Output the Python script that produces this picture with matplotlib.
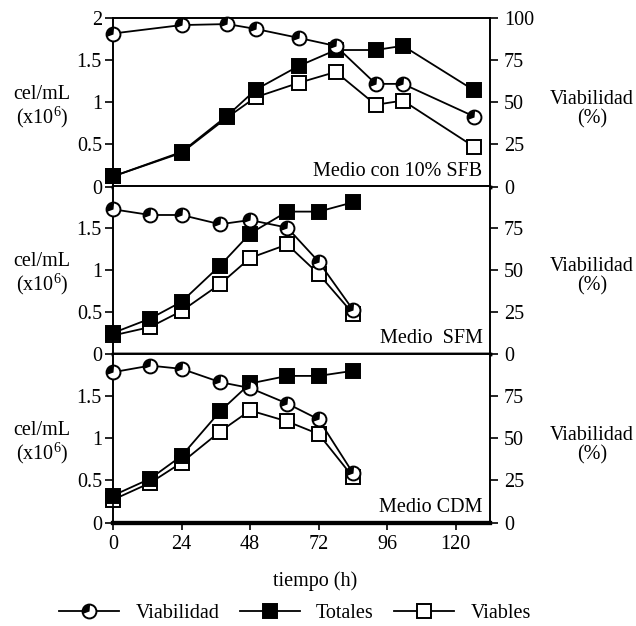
import numpy as np
import matplotlib
matplotlib.use('Agg')
import matplotlib.pyplot as plt
from matplotlib.path import Path
from matplotlib.lines import Line2D
from matplotlib.legend_handler import HandlerTuple

plt.rcParams['font.family'] = 'Liberation Serif'
plt.rcParams['font.size'] = 14.5
plt.rcParams['mathtext.fontset'] = 'custom'
plt.rcParams['mathtext.rm'] = 'Liberation Serif'
plt.rcParams['mathtext.it'] = 'Liberation Serif'

# tiempos (h)
t_sfb = [0, 24, 40, 50, 65, 78, 92, 101.5, 126.5]
t_sfm = [0, 13, 24, 37.5, 48, 61, 72, 84]
t_cdm = [0, 13, 24, 37.5, 48, 61, 72, 84]

# Medio con 10% SFB
viab_sfb = [90.8, 95.8, 96.4, 93.5, 88.2, 83.4, 60.9, 60.9, 41.5]
tot_sfb = [0.12, 0.41, 0.84, 1.15, 1.43, 1.62, 1.62, 1.67, 1.14]
vivas_sfb = [0.12, 0.40, 0.82, 1.06, 1.23, 1.36, 0.97, 1.02, 0.47]

# Medio SFM
viab_sfm = [85.9, 82.5, 82.5, 77.0, 79.5, 75.0, 54.8, 26.3]
tot_sfm = [0.25, 0.42, 0.62, 1.05, 1.43, 1.69, 1.69, 1.80]
vivas_sfm = [0.22, 0.32, 0.51, 0.83, 1.14, 1.30, 0.95, 0.48]

# Medio CDM
viab_cdm = [89.2, 93.1, 91.2, 83.3, 79.8, 70.6, 61.2, 29.4]
tot_cdm = [0.32, 0.52, 0.79, 1.32, 1.65, 1.74, 1.74, 1.80]
vivas_cdm = [0.27, 0.47, 0.71, 1.08, 1.33, 1.20, 1.05, 0.54]

paneles = [
    (t_sfb, viab_sfb, tot_sfb, vivas_sfb, 'Medio con 10% SFB'),
    (t_sfm, viab_sfm, tot_sfm, vivas_sfm, 'Medio  SFM'),
    (t_cdm, viab_cdm, tot_cdm, vivas_cdm, 'Medio CDM'),
]

wedge = Path.wedge(85, 200)
ms = 10
mew = 1.4

fig = plt.figure(figsize=(6.36, 6.26), dpi=100)
W, H = 636, 626
x0, x1 = 113, 490
tops = [18, 185.5, 354]
alto = 168.5

for i, (t, viab, tot, vivas, nombre) in enumerate(paneles):
    ax = fig.add_axes([x0 / W, 1 - (tops[i] + alto) / H, (x1 - x0) / W, alto / H])
    ax2 = ax.twinx()
    ax.set_xlim(0, 132)
    ax.set_ylim(0, 2)
    ax2.set_ylim(0, 100)

    ax.plot(t, vivas, '-', color='black', lw=1.3, marker='s', ms=ms,
            mfc='white', mec='black', mew=mew, clip_on=False, zorder=3)
    ax.plot(t, tot, '-', color='black', lw=1.3, marker='s', ms=ms,
            mfc='black', mec='black', mew=mew, clip_on=False, zorder=4)
    ax2.plot(t, viab, '-', color='black', lw=1.3, marker='o', ms=ms,
             mfc='white', mec='black', mew=mew, clip_on=False, zorder=3)
    ax2.plot(t, viab, ls='none', marker=wedge, ms=ms - 0.5, mfc='black',
             mec='black', mew=0, clip_on=False, zorder=4)

    if i == 0:
        ax.set_yticks([0, 0.5, 1, 1.5, 2])
        ax.set_yticklabels(['0', '0.5', '1', '1.5', '2'])
        ax2.set_yticks([0, 25, 50, 75, 100])
    else:
        ax.set_yticks([0, 0.5, 1, 1.5])
        ax.set_yticklabels(['0', '0.5', '1', '1.5'])
        ax2.set_yticks([0, 25, 50, 75])

    ax.tick_params(axis='y', direction='out', length=6, width=1.2, pad=2)
    ax2.tick_params(axis='y', direction='out', length=6, width=1.2, pad=4)
    if i == 2:
        ax.set_xticks([0, 24, 48, 72, 96, 120])
        ax.tick_params(axis='x', direction='out', length=5, width=1.2, pad=4)
    else:
        ax.set_xticks([])

    for a in (ax, ax2):
        for s in a.spines.values():
            s.set_linewidth(1.2)
    lw_inf = 2.5 if i < 2 else 3
    ax.spines['bottom'].set_linewidth(lw_inf)
    ax2.spines['bottom'].set_linewidth(lw_inf)

    ax2.text(0.98, 0.035, nombre, transform=ax.transAxes, ha='right', va='bottom')
    ax.text(-0.188, 0.47, 'cel/mL\n(x10$^{6}$)', transform=ax.transAxes,
            ha='center', va='center', linespacing=1.05)
    ax.text(1.27, 0.46, 'Viabilidad\n(%)', transform=ax.transAxes,
            ha='center', va='center', linespacing=1.0)

fig.text(315 / W, 1 - 581 / H, 'tiempo (h)', ha='center', va='center')

h_viab = (Line2D([], [], color='black', lw=1.3, marker='o', ms=ms, mfc='white',
                 mec='black', mew=mew),
          Line2D([], [], ls='none', marker=wedge, ms=ms - 0.5, mfc='black', mew=0))
h_tot = Line2D([], [], color='black', lw=1.3, marker='s', ms=ms, mfc='black',
               mec='black', mew=mew)
h_viv = Line2D([], [], color='black', lw=1.3, marker='s', ms=ms, mfc='white',
               mec='black', mew=mew)
fig.legend([h_viab, h_tot, h_viv], ['Viabilidad', 'Totales', 'Viables'],
           handler_map={tuple: HandlerTuple(ndivide=1)},
           loc='center', bbox_to_anchor=(295 / W, 1 - 613 / H), ncol=3,
           frameon=False, handlelength=3.0, handletextpad=0.8,
           columnspacing=1.0, borderpad=0)

fig.savefig('out.png', dpi=100)
